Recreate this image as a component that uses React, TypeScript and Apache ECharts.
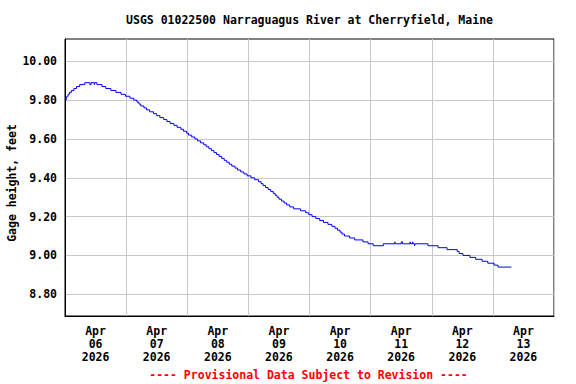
import React, { useEffect, useRef } from "react";
import * as echarts from "echarts";

const chartTitle = "USGS 01022500 Narraguagus River at Cherryfield, Maine";
const yAxisTitle = "Gage height, feet";
const footnote = "---- Provisional Data Subject to Revision ----";

const monthLabel = "Apr";
const yearLabel = "2026";
const dayLabels = ["06", "07", "08", "09", "10", "11", "12", "13"];

const yTicks = [8.8, 9.0, 9.2, 9.4, 9.6, 9.8, 10.0];
const yMin = 8.688;
const yMax = 10.115;

// hours since Apr 06 00:00, gage height (ft)
const gageReadings: [number, number][] = [
  [0, 9.8], [0.5, 9.81], [0.75, 9.82], [1.25, 9.83], [1.75, 9.84], [2.5, 9.85],
  [3.5, 9.86], [4.5, 9.87], [5.75, 9.88], [7.75, 9.89], [9.75, 9.88], [10.25, 9.89],
  [11.5, 9.88], [11.75, 9.89], [12.5, 9.88], [14.5, 9.87], [16, 9.86], [18, 9.85],
  [20, 9.84], [22, 9.83], [23.75, 9.82], [25.5, 9.81], [27, 9.8], [28.25, 9.79],
  [29, 9.78], [29.75, 9.77], [31, 9.76], [32, 9.75], [33.25, 9.74], [34.75, 9.73],
  [36, 9.72], [37.25, 9.71], [38.75, 9.7], [40, 9.69], [41.25, 9.68], [42.75, 9.67],
  [44, 9.66], [45.5, 9.65], [46.5, 9.64], [47.75, 9.63], [48.5, 9.62], [49.75, 9.61],
  [51, 9.6], [52, 9.59], [53.25, 9.58], [54.5, 9.57], [55.5, 9.56], [56.5, 9.55],
  [57.5, 9.54], [58.5, 9.53], [59.5, 9.52], [60.5, 9.51], [61.5, 9.5], [62.5, 9.49],
  [63.5, 9.48], [64.5, 9.47], [65.5, 9.46], [66.75, 9.45], [67.75, 9.44], [69, 9.43],
  [70.25, 9.42], [71.5, 9.41], [73, 9.4], [74.5, 9.39], [76, 9.38], [77, 9.37],
  [77.75, 9.36], [78.75, 9.35], [79.75, 9.34], [80.75, 9.33], [81.75, 9.32], [82.5, 9.31],
  [83.25, 9.3], [84, 9.29], [85, 9.28], [86, 9.27], [87, 9.26], [88.25, 9.25],
  [89.75, 9.24], [92.5, 9.23], [94.5, 9.22], [95.75, 9.21], [97, 9.2], [98.5, 9.19],
  [100, 9.18], [101.5, 9.17], [103.25, 9.16], [104.75, 9.15], [106, 9.14], [107, 9.13],
  [108, 9.12], [108.75, 9.11], [109.75, 9.1], [111.75, 9.09], [113.75, 9.08], [117, 9.07],
  [119, 9.06], [121, 9.05], [125, 9.06], [129.5, 9.07], [129.75, 9.06], [132, 9.07],
  [132.5, 9.06], [135.5, 9.07], [135.75, 9.06], [136.5, 9.07], [136.75, 9.06], [137.25, 9.05],
  [137.5, 9.06], [142.5, 9.05], [146.5, 9.04], [150, 9.03], [154, 9.02], [154.75, 9.01],
  [156.25, 9.0], [159, 8.99], [161.25, 8.98], [163.75, 8.97], [166, 8.96], [168.5, 8.95],
  [170, 8.94], [175.25, 8.94],
];

const FONT = "'DejaVu Sans Mono', monospace";

export default function App() {
  const ref = useRef<HTMLDivElement>(null);
  useEffect(() => {
    if (!ref.current) return;
    const chart = echarts.init(ref.current, null, { renderer: "svg" });
    const dayGrid = dayLabels.map((_, i) => i * 24).concat([dayLabels.length * 24]);
    const dayMid = dayLabels.map((_, i) => i * 24 + 12);
    chart.setOption({
      animation: false,
      backgroundColor: "#ffffff",
      grid: {
        left: 65,
        top: 39,
        right: 22,
        bottom: 68,
        show: true,
        borderColor: "#000000",
        borderWidth: 1,
        containLabel: false,
      },
      xAxis: {
        type: "value",
        min: 0,
        max: dayLabels.length * 24,
        axisLine: { show: true, onZero: false, lineStyle: { color: "#000", width: 1 } },
        axisTick: { show: false, customValues: dayGrid },
        splitLine: { show: true, lineStyle: { color: "#c8c8c8", width: 1 } },
        axisLabel: {
          customValues: dayMid,
          margin: 8,
          fontFamily: FONT,
          fontWeight: "bold",
          fontSize: 11.5,
          lineHeight: 13,
          color: "#000",
          formatter: (v: number) => {
            const idx = Math.floor(v / 24);
            return `${monthLabel}\n${dayLabels[idx]}\n${yearLabel}`;
          },
        },
      },
      yAxis: {
        type: "value",
        min: yMin,
        max: yMax,
        axisLine: { show: true, onZero: false, lineStyle: { color: "#000", width: 1 } },
        axisTick: { show: false, customValues: yTicks },
        splitLine: { show: true, lineStyle: { color: "#c8c8c8", width: 1 } },
        axisLabel: {
          customValues: yTicks,
          margin: 8,
          fontFamily: FONT,
          fontWeight: "bold",
          fontSize: 11.5,
          color: "#000",
          formatter: (v: number) => v.toFixed(2),
        },
      },
      graphic: [
        {
          type: "text",
          x: 309.5,
          y: 20,
          style: {
            text: chartTitle,
            fontFamily: FONT,
            fontWeight: "bold",
            fontSize: 11.5,
            fill: "#000",
            textAlign: "center",
            textVerticalAlign: "middle",
          },
        },
        {
          type: "text",
          x: 12,
          y: 183,
          rotation: Math.PI / 2,
          style: {
            text: yAxisTitle,
            fontFamily: FONT,
            fontWeight: "bold",
            fontSize: 11.5,
            fill: "#000",
            textAlign: "center",
            textVerticalAlign: "middle",
          },
        },
        {
          type: "text",
          x: 308.5,
          y: 375,
          style: {
            text: footnote,
            fontFamily: FONT,
            fontWeight: "bold",
            fontSize: 11.5,
            fill: "#ff0000",
            textAlign: "center",
            textVerticalAlign: "middle",
          },
        },
      ],
      series: [
        {
          type: "line",
          step: "end",
          data: gageReadings,
          showSymbol: false,
          symbol: "none",
          lineStyle: { color: "#0000ff", width: 1 },
          silent: true,
        },
      ],
    });
    return () => chart.dispose();
  }, []);
  return <div ref={ref} style={{ width: 576, height: 384, position: "absolute", left: 0, top: 0 }} />;
}
